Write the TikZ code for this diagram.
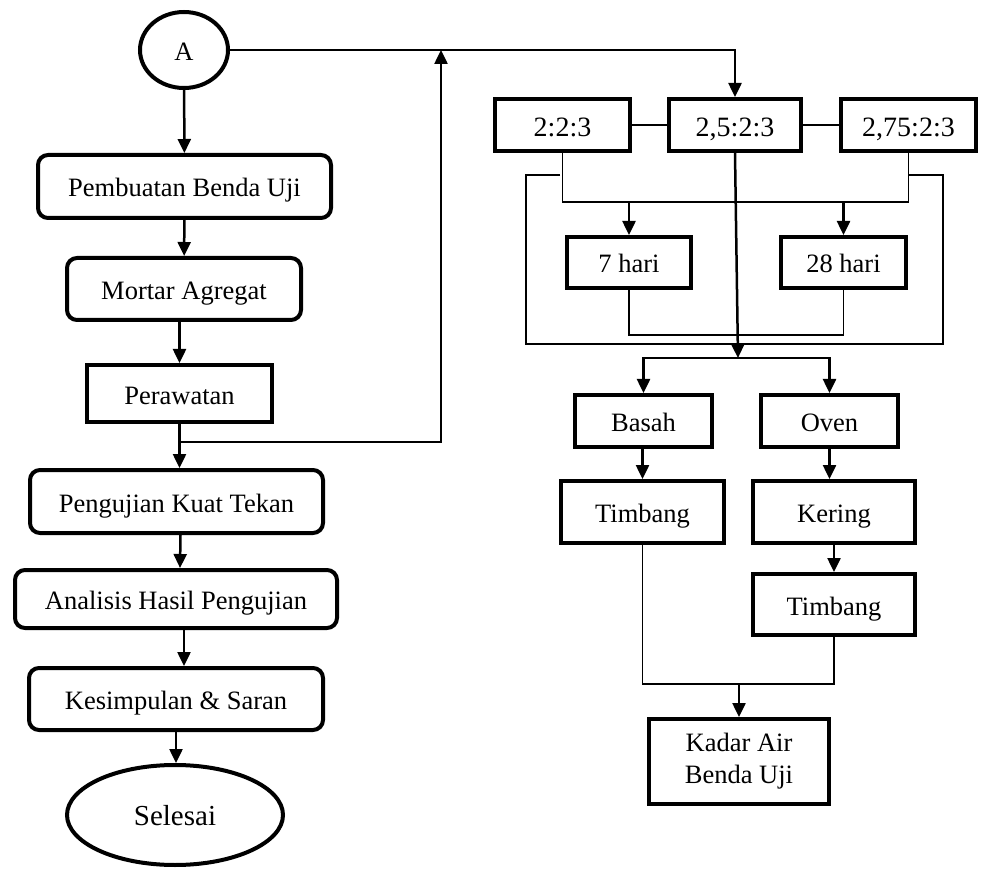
\documentclass[tikz,border=0pt]{standalone}
\usepackage{fontspec}
\setmainfont{Liberation Serif}
\usetikzlibrary{arrows.meta,shapes.geometric}
\tikzset{
 base/.style={draw, line width=4pt, inner sep=0pt, align=center, font=\fontsize{26.5}{32}\selectfont},
 tx/.style={text height=26pt, text depth=5pt},
 rbox/.style={base, tx, rectangle, rounded corners=10pt},
 sbox/.style={base, tx, rectangle},
 mbox/.style={base, rectangle},
 rat/.style={sbox, font=\fontsize{28}{32}\selectfont, text height=28pt},
 oval/.style={base, tx, ellipse},
 arr/.style={line width=2.5pt, -{Triangle[width=13pt,length=14pt]}},
 ln/.style={line width=1.8pt},
}
\begin{document}
\begin{tikzpicture}[x=1pt,y=-1pt]
\useasboundingbox (0,0) rectangle (989,869);
% left column
\node[oval, minimum width=88pt, minimum height=76pt] (A) at (184,50) {A};
\node[rbox, minimum width=293pt, minimum height=63pt] (pem) at (184.5,186.5) {Pembuatan Benda Uji};
\node[rbox, minimum width=234pt, minimum height=62pt] (mor) at (184,289) {Mortar Agregat};
\node[sbox, minimum width=185pt, minimum height=57pt] (per) at (179.5,393.5) {Perawatan};
\node[rbox, minimum width=293pt, minimum height=63pt] (pen) at (176.5,501.5) {Pengujian Kuat Tekan};
\node[rbox, minimum width=322pt, minimum height=58pt] (ana) at (176,599) {Analisis Hasil Pengujian};
\node[rbox, minimum width=294pt, minimum height=62pt] (kes) at (176,699) {Kesimpulan \& Saran};
\node[oval, minimum width=216pt, minimum height=100pt, font=\fontsize{29}{32}\selectfont] (sel) at (175,815) {Selesai};
% right column
\node[rat, minimum width=135pt, minimum height=52pt] (r1) at (562.5,125) {2:2:3};
\node[rat, minimum width=132pt, minimum height=52pt] (r2) at (735,125) {2,5:2:3};
\node[rat, minimum width=135pt, minimum height=52pt] (r3) at (908.5,125) {2,75:2:3};
\node[sbox, minimum width=124pt, minimum height=51pt] (h7) at (629,262.5) {7 hari};
\node[sbox, minimum width=125pt, minimum height=51pt] (h28) at (843.5,262.5) {28 hari};
\node[sbox, minimum width=137pt, minimum height=52pt] (bas) at (643.5,421) {Basah};
\node[sbox, minimum width=137pt, minimum height=52pt] (ove) at (829.5,421) {Oven};
\node[sbox, minimum width=163pt, minimum height=62pt] (tim1) at (642.5,512) {Timbang};
\node[sbox, minimum width=162pt, minimum height=62pt] (ker) at (834,512) {Kering};
\node[sbox, minimum width=162pt, minimum height=61pt] (tim2) at (834,604.5) {Timbang};
\node[mbox, minimum width=180pt, minimum height=85pt] (kad) at (739,761.5) {Kadar Air\\Benda Uji};
% helper coordinates
\coordinate (j1) at (180,442);
\coordinate (uptip) at (441,50);
\coordinate (hb) at (0,202);
\coordinate (hc) at (0,335);
\coordinate (hd) at (0,358);
\coordinate (he) at (0,684);
% left connectors
\draw[arr] (A) -- (pem);
\draw[arr] (pem) -- (mor);
\draw[arr] (per.north |- mor.south) -- (per.north);
\draw[arr] (per.south) -- (per.south |- pen.north);
\draw[arr] (j1) -| (uptip);
\draw[arr] ([xshift=4pt]pen.south) -- ([xshift=4pt]ana.north);
\draw[arr] ([xshift=8pt]ana.south) -- ([xshift=8pt]kes.north);
\draw[arr] (kes.south) -- (kes.south |- sel.north);
% A to ratio boxes
\draw[line width=2pt] (A.east) -- (uptip);
\draw[arr] (uptip) -| (r2.north);
% ratio links
\draw[ln] (r1.east) -- (r2.west);
\draw[ln] (r2.east) -- (r3.west);
\draw[ln] (r1.south) -- (r1.south |- hb) -| (r3.south);
\draw[arr] (h7.north |- hb) -- (h7.north);
\draw[arr] (h28.north |- hb) -- (h28.north);
\draw[ln] (h7.south) -- (h7.south |- hc) -| (h28.south);
\draw[ln] (560,175) -- (526,175) -- (526,344) -- (943,344) -- (943,175) -- (908,175);
\draw[arr] (r2.south) -- ([xshift=3pt]r2.south |- hd);
\draw[arr] ([xshift=3pt]r2.south |- hd) -| (bas.north);
\draw[arr] ([xshift=3pt]r2.south |- hd) -| (ove.north);
% drying branch
\draw[arr] (bas) -- (tim1.north |- bas.south) -- (tim1.north);
\draw[arr] (ove) -- (ove.south |- ker.north);
\draw[arr] (ker) -- (ker.south |- tim2.north);
\draw[ln] (tim1.south) -- (tim1.south |- he) -| (tim2.south);
\draw[arr] (kad.north |- he) -- (kad.north);
\end{tikzpicture}
\end{document}
